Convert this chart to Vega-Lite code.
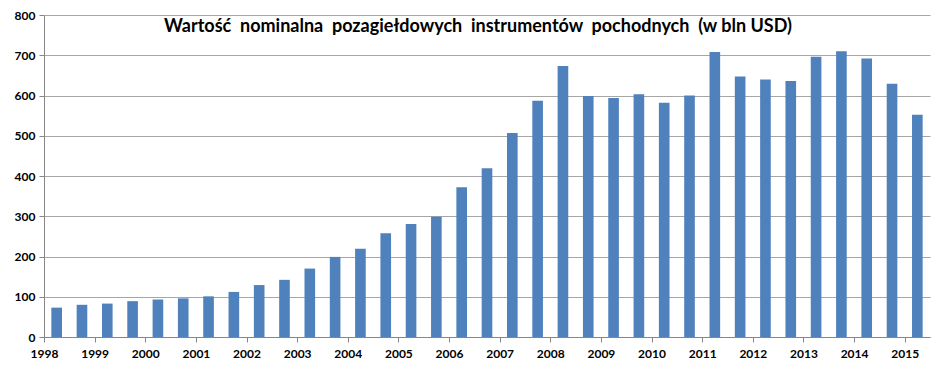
{
  "$schema": "https://vega.github.io/schema/vega-lite/v6.json",
  "width": 886,
  "height": 322,
  "autosize": {"type": "none"},
  "padding": {"left": 44, "top": 15, "right": 15, "bottom": 35},
  "background": "white",
  "title": {
    "text": "Wartość\u00a0 nominalna\u00a0 pozagiełdowych\u00a0 instrumentów\u00a0 pochodnych\u00a0 (w bln USD)",
    "font": "Lato",
    "fontSize": 18,
    "fontWeight": "bold",
    "color": "black",
    "anchor": "middle",
    "offset": -41,
    "baseline": "alphabetic",
    "dx": -9
  },
  "data": {
    "values": [
      {"period": "1998-H1", "value": 73},
      {"period": "1998-H2", "value": 80},
      {"period": "1999-H1", "value": 83},
      {"period": "1999-H2", "value": 89},
      {"period": "2000-H1", "value": 93},
      {"period": "2000-H2", "value": 96},
      {"period": "2001-H1", "value": 101},
      {"period": "2001-H2", "value": 112},
      {"period": "2002-H1", "value": 129},
      {"period": "2002-H2", "value": 142},
      {"period": "2003-H1", "value": 170},
      {"period": "2003-H2", "value": 199},
      {"period": "2004-H1", "value": 219},
      {"period": "2004-H2", "value": 258},
      {"period": "2005-H1", "value": 281},
      {"period": "2005-H2", "value": 299},
      {"period": "2006-H1", "value": 372},
      {"period": "2006-H2", "value": 419},
      {"period": "2007-H1", "value": 507},
      {"period": "2007-H2", "value": 587},
      {"period": "2008-H1", "value": 673},
      {"period": "2008-H2", "value": 599},
      {"period": "2009-H1", "value": 594},
      {"period": "2009-H2", "value": 603},
      {"period": "2010-H1", "value": 582},
      {"period": "2010-H2", "value": 600},
      {"period": "2011-H1", "value": 708},
      {"period": "2011-H2", "value": 647},
      {"period": "2012-H1", "value": 640},
      {"period": "2012-H2", "value": 636},
      {"period": "2013-H1", "value": 696},
      {"period": "2013-H2", "value": 710},
      {"period": "2014-H1", "value": 692},
      {"period": "2014-H2", "value": 629},
      {"period": "2015-H1", "value": 552}
    ]
  },
  "mark": {"type": "bar", "color": "#4F81BD"},
  "encoding": {
    "x": {
      "field": "period",
      "type": "ordinal",
      "sort": null,
      "scale": {"paddingInner": 0.58, "paddingOuter": 0.29},
      "axis": {
        "title": null,
        "values": ["1998-H1", "1999-H1", "2000-H1", "2001-H1", "2002-H1", "2003-H1", "2004-H1", "2005-H1", "2006-H1", "2007-H1", "2008-H1", "2009-H1", "2010-H1", "2011-H1", "2012-H1", "2013-H1", "2014-H1", "2015-H1"],
        "labelAngle": 0,
        "labelExpr": "substring(datum.label, 0, 4)",
        "labelFont": "Lato",
        "labelFontSize": 12,
        "labelFontWeight": "bold",
        "labelColor": "black",
        "labelPadding": 6,
        "tickOffset": -12.66,
        "tickSize": 5,
        "tickColor": "#868686",
        "domainColor": "#868686",
        "grid": false
      }
    },
    "y": {
      "field": "value",
      "type": "quantitative",
      "scale": {"domain": [0, 800]},
      "axis": {
        "title": null,
        "values": [0, 100, 200, 300, 400, 500, 600, 700, 800],
        "labelFont": "Lato",
        "labelFontSize": 12,
        "labelFontWeight": "bold",
        "labelColor": "black",
        "labelPadding": 4,
        "tickSize": 5,
        "tickColor": "#868686",
        "domainColor": "#868686",
        "gridColor": "#A6A6A6",
        "gridWidth": 1
      }
    }
  },
  "config": {"view": {"stroke": null}}
}
